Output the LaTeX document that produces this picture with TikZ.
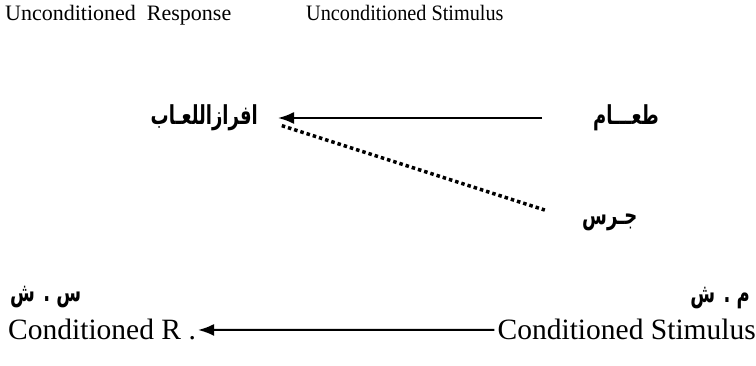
\documentclass[tikz,border=0pt]{standalone}
\usepackage{graphicx}
\usepackage{fontspec}
\setmainfont{Liberation Serif}
\newfontfamily\arabicfont[Script=Arabic]{DejaVu Sans}
\TeXXeTstate=1
\usetikzlibrary{arrows.meta}
\newcommand{\artxt}[1]{\scalebox{1}[1.45]{\beginR #1\endR}}
\begin{document}
\begin{tikzpicture}[x=1pt,y=-1pt,
  en/.style={inner sep=0pt, font=\fontsize{22}{24}\selectfont},
  enb/.style={inner sep=0pt, font=\fontsize{29.5}{32}\selectfont},
  ar/.style={inner sep=0pt, font=\arabicfont\bfseries\fontsize{18}{20}\selectfont},
  conn/.style={line width=2pt, -{Latex[length=16pt,width=12pt]}},
  dotline/.style={line width=3.5pt, dash pattern=on 3.5pt off 3pt}]
\useasboundingbox (0,0) rectangle (756,366);
\node[en,anchor=base west] (ur) at (5,21) {Unconditioned\ \ Response};
\node[en,anchor=base west] (us) at (306,21) {\scalebox{0.92}[1]{Unconditioned Stimulus}};
\node[ar,anchor=east] (saliva) at (258,118) {\artxt{افرازاللعـاب}};
\node[ar,anchor=west] (food) at (593,118) {\artxt{طعـــام}};
\node[ar,anchor=west] (bell) at (582,222) {\artxt{جـرس}};
\draw[conn, shorten <=51pt, shorten >=20pt] (food.west) -- (saliva.east);
\draw[dotline, shorten <=25pt, shorten >=39pt] (saliva.east) -- (bell.west);
\node[ar,anchor=west] (csar) at (10,297) {\artxt{س . ش}};
\node[ar,anchor=east] (msar) at (750,298) {\artxt{م . ش}};
\node[enb,anchor=base west] (cr) at (8,340) {Conditioned R .};
\node[enb,anchor=base east] (cs) at (756,340) {Conditioned Stimulus};
\draw[conn, shorten <=3pt, shorten >=2pt] (cs.west) -- (cr.east);
\end{tikzpicture}
\end{document}
